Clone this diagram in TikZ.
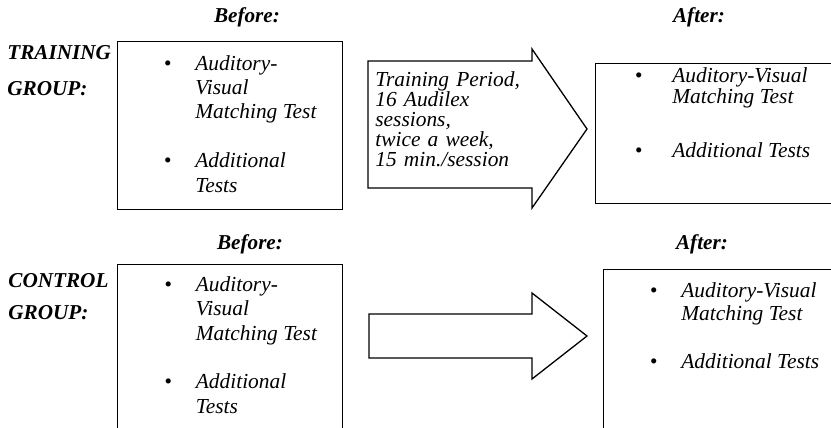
\documentclass[tikz,border=0pt]{standalone}
\usepackage{fontspec}
\setmainfont{Liberation Serif}
\usetikzlibrary{positioning}

% the same list sits in both "before" boxes
\newcommand{\beforelist}{%
  \begin{tabular}[t]{@{}p{15.75pt}@{}l@{}}
    \textbullet & Auditory-\\
                & Visual\\
                & Matching Test\\[12pt]
    \textbullet & Additional\\
                & Tests
  \end{tabular}}

\begin{document}
\begin{tikzpicture}[
    x=0.5pt, y=-0.5pt,
    box/.style={draw, line width=0.65pt, inner sep=0pt, anchor=north west},
    head/.style={font=\fontsize{10.6pt}{12pt}\selectfont\bfseries\itshape,
                 inner sep=0pt, anchor=base},
    grp/.style={head, anchor=base west},
    txt/.style={font=\fontsize{10.7pt}{12.25pt}\selectfont\itshape,
                inner sep=0pt, anchor=base west},
    para/.style={txt, text width=80pt, align=left},
    blockarr/.style={draw, line width=0.65pt, line join=miter},
  ]
  \useasboundingbox (0,0) rectangle (831,428);
  \clip (0,0) rectangle (831,428);

  % training group
  \node[head] (before1) at (247,22) {Before:};
  \node[head] (after1) at (699,22) {After:};
  \node[grp] (train) at (7,60) {TRAINING};
  \node[grp] (group1) at (7,95) {GROUP:};
  \node[box, minimum width=112.5pt, minimum height=84pt] (pre1) at (117,41) {};
  \node[box, minimum width=125pt, minimum height=70pt] (post1) at (595,63) {};
  \node[txt] (prelist1) at (163.5,70) {\beforelist};
  \node[txt, font=\fontsize{10.7pt}{9.75pt}\selectfont\itshape]
    (postlist1) at (634.5,83) {%
    \begin{tabular}[t]{@{}p{18.75pt}@{}l@{}}
      \textbullet & Auditory-Visual\\
                  & Matching Test\\[16.5pt]
      \textbullet & Additional Tests
    \end{tabular}};
  \draw[blockarr] (368,61) -- (532,61) -- (532,49) -- (587,129)
    -- (532,208) -- (532,188) -- (368,188) -- cycle;
  \node[para, font=\fontsize{10.7pt}{10.1pt}\selectfont\itshape]
    (period) at (375,86) {Training Period,\\16 Audilex\\sessions,\\twice a week,\\15 min./session};

  % control group
  \node[head] (before2) at (250,249) {Before:};
  \node[head] (after2) at (702,249) {After:};
  \node[grp] (control) at (8,287) {CONTROL};
  \node[grp] (group2) at (8,319) {GROUP:};
  \node[box, minimum width=112.5pt, minimum height=90pt] (pre2) at (117,264) {};
  \node[box, minimum width=121pt, minimum height=90pt] (post2) at (603,269) {};
  \node[txt] (prelist2) at (164,291) {\beforelist};
  \node[txt, font=\fontsize{10.7pt}{11.5pt}\selectfont\itshape]
    (postlist2) at (649.5,297) {%
    \begin{tabular}[t]{@{}p{15.75pt}@{}l@{}}
      \textbullet & Auditory-Visual\\
                  & Matching Test\\[12.5pt]
      \textbullet & Additional Tests
    \end{tabular}};
  \draw[blockarr] (369,314) -- (532,314) -- (532,293) -- (587,336)
    -- (532,379) -- (532,358) -- (369,358) -- cycle;
\end{tikzpicture}
\end{document}
